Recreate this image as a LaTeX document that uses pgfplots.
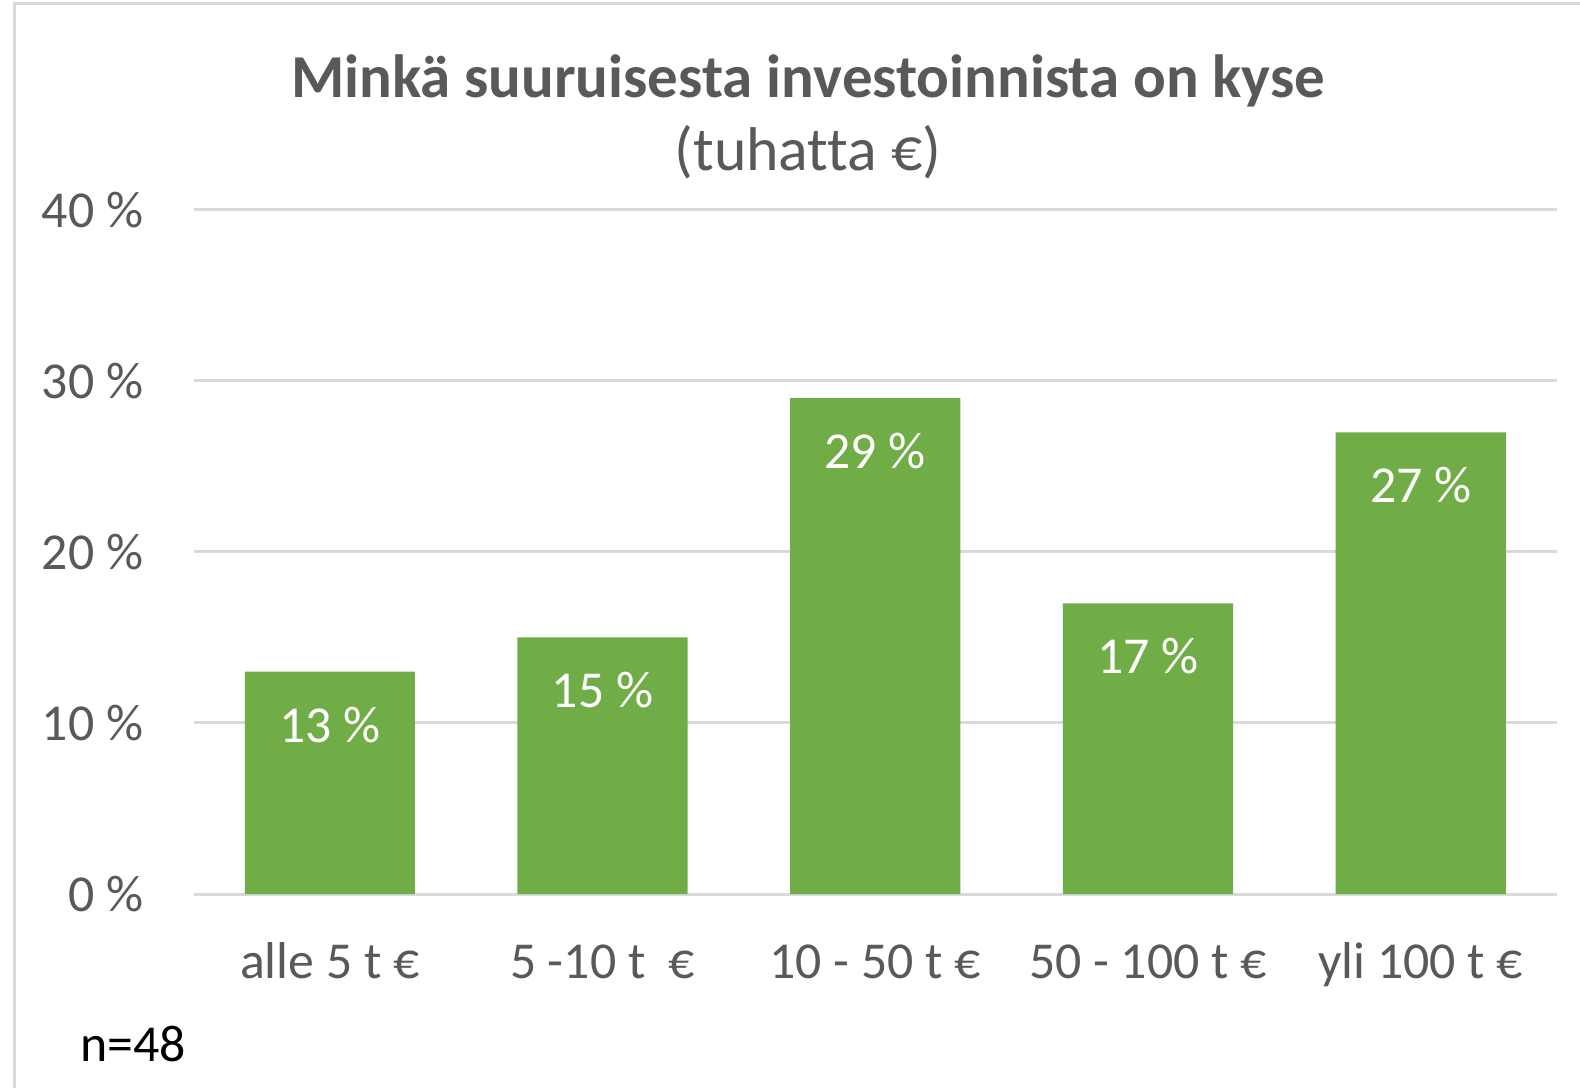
\documentclass[border=0pt]{standalone}
\usepackage{pgfplots}
\pgfplotsset{compat=1.18}
\usepackage{fontspec}
\setmainfont{Carlito}[Ligatures={NoCommon}]
\definecolor{bargreen}{HTML}{70AD47}
\definecolor{txtgray}{HTML}{595959}
\definecolor{gridgray}{HTML}{D9D9D9}
\begin{document}
\begin{tikzpicture}[x=0.5bp,y=0.5bp]
\useasboundingbox (0,0) rectangle (1580,1088);
\fill[white] (0,0) rectangle (1580,1088);
\draw[gridgray, line width=1.5bp] (14,0) -- (14,1084) -- (1580,1084);
\begin{axis}[
  at={(96.75bp,97bp)}, anchor=south west,
  scale only axis, width=681.75bp, height=342bp,
  xmin=-0.5, xmax=4.5, ymin=0, ymax=40,
  /pgf/number format/assume math mode=true,
  axis line style={draw=none},
  ytick={0,10,20,30,40},
  yticklabels={0~\%,10~\%,20~\%,30~\%,40~\%},
  xtick={0,1,2,3,4},
  xticklabels={alle 5 t \texteuro, 5 -10 t~~\texteuro, 10 - 50 t \texteuro, 50 - 100 t \texteuro, yli 100 t \texteuro},
  major tick length=0pt,
  ymajorgrids, grid style={gridgray, line width=1.5bp},
  tick label style={font=\fontsize{26}{31}\selectfont, text=txtgray},
  yticklabel style={anchor=east, inner sep=0pt, xshift=-25bp},
  xticklabel style={anchor=base, inner sep=0pt, yshift=-42bp},
  clip=false,
]
\addplot[ybar, bar width=0.624, fill=bargreen, draw=none,
  nodes near coords={\pgfmathprintnumber{\pgfplotspointmeta}~\%},
  every node near coord/.append style={anchor=north, yshift=-14bp, text=white, font=\fontsize{26}{31}\selectfont}]
  coordinates {(0,13) (1,15) (2,29) (3,17) (4,27)};
\end{axis}
\node[anchor=base, text=txtgray, font=\fontsize{30.6}{37}\selectfont\bfseries] at (808,990) {Minkä suuruisesta investoinnista on kyse};
\node[anchor=base, text=txtgray, font=\fontsize{31}{38}\selectfont] at (808,917) {(tuhatta \texteuro)};
\node[anchor=base west, inner sep=0pt, font=\fontsize{26}{31}\selectfont] at (80,27) {n=48};
\end{tikzpicture}
\end{document}
